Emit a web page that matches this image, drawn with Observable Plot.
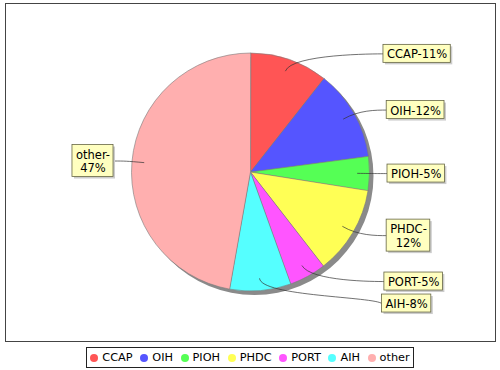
<!DOCTYPE html>
<html><head><meta charset="utf-8">
<script src="https://cdn.jsdelivr.net/npm/d3@7"></script>
<script src="https://cdn.jsdelivr.net/npm/@observablehq/plot@0.6"></script>
<style>
body{margin:0;background:#fff;font-family:"DejaVu Sans",sans-serif;}
#chart svg{display:block;}
#legendWrap{display:flex;justify-content:center;margin-top:4px;}
#legend{border:1px solid #222;padding:2px 3px;display:flex;align-items:center;height:15px;font-size:11.3px;color:#000;line-height:15px;}
.item{display:flex;align-items:center;margin-right:7.6px;}
.item:last-child{margin-right:0;}
.dot{width:8px;height:8px;border-radius:50%;margin-right:4px;}
</style></head><body>
<div id="chart"></div>
<div id="legendWrap"><div id="legend"></div></div>
<script>
// ---- data ----
const categories = ["CCAP", "OIH", "PIOH", "PHDC", "PORT", "AIH", "other"];
const shares = [10.6, 12.3, 4.6, 12.0, 5.0, 8.3, 47.2];
const labelTexts = ["CCAP-11%", "OIH-12%", "PIOH-5%", "PHDC-\n12%", "PORT-5%", "AIH-8%", "other-\n47%"];
const colors = ["#ff5555", "#5555ff", "#55ff55", "#ffff55", "#ff55ff", "#55ffff", "#ffafaf"];

// ---- layout ----
const W = 500, H = 343, mL = 5, mR = 5, mT = 3, mB = 2;
const PX = 119;               // pixels per unit (pie radius)
const cxPx = 250, cyPx = 171.5;
const xDomain = [-(cxPx - mL) / PX, (W - mR - cxPx) / PX];
const yDomain = [-(H - mB - cyPx) / PX, (cyPx - mT) / PX];
const u = p => p / PX;
const FONT = 11.5, LH = 14;

const total = d3.sum(shares);
let acc = 0;
const slices = categories.map((c, i) => {
  const a0 = acc / total * 2 * Math.PI; acc += shares[i];
  const a1 = acc / total * 2 * Math.PI;
  return {cat: c, i, a0, a1, mid: (a0 + a1) / 2};
});
const P = (a, r) => [r * Math.sin(a), r * Math.cos(a)];

// slice polygons: center, arc start, arc end
const slicePts = slices.flatMap(s => {
  const p0 = P(s.a0, 1), p1 = P(s.a1, 1);
  return [{cat: s.cat, x: 0, y: 0}, {cat: s.cat, x: p0[0], y: p0[1]}, {cat: s.cat, x: p1[0], y: p1[1]}];
});
const sh = u(4);
const shadowPts = [{x: sh, y: -sh}, {x: sh, y: -sh + 1}];

function pieArc(context) {
  let p = [];
  return {
    areaStart() {}, areaEnd() {},
    lineStart() { p = []; },
    point(x, y) { p.push([+x, +y]); },
    lineEnd() {
      const c = p[0], s = p[1];
      const r = Math.hypot(s[0] - c[0], s[1] - c[1]);
      const t0 = Math.atan2(s[1] - c[1], s[0] - c[0]);
      if (p.length === 2) {
        context.moveTo(c[0] + r * Math.cos(t0), c[1] + r * Math.sin(t0));
        context.arc(c[0], c[1], r, t0, t0 + 2 * Math.PI, false);
        context.closePath();
        return;
      }
      const e = p[2];
      let t1 = Math.atan2(e[1] - c[1], e[0] - c[0]);
      if (t1 <= t0) t1 += 2 * Math.PI;
      context.moveTo(c[0], c[1]);
      context.lineTo(s[0], s[1]);
      context.arc(c[0], c[1], r, t0, t1, false);
      context.closePath();
    }
  };
}
function cubic(context) {
  let p = [];
  return {
    areaStart() {}, areaEnd() {},
    lineStart() { p = []; },
    point(x, y) { p.push([+x, +y]); },
    lineEnd() {
      context.moveTo(p[0][0], p[0][1]);
      context.bezierCurveTo(p[1][0], p[1][1], p[2][0], p[2][1], p[3][0], p[3][1]);
    }
  };
}

// labels
const canvas = document.createElement("canvas").getContext("2d");
canvas.font = `${FONT}px "DejaVu Sans"`;
const linkR = u(125), linkPct = 0.9, gap = u(4);
const labels = slices.map(s => {
  const side = Math.sin(s.mid) >= 0 ? 1 : -1;
  const lines = labelTexts[s.i].split("\n");
  const w = u(d3.max(lines, l => canvas.measureText(l).width) + 7);
  const h = u(lines.length * LH + 4);
  const edge = side * (u(131) + u(6) * Math.abs(Math.sin(s.mid)));
  return {s, side, lines, w, h, edge, y: linkR * Math.cos(s.mid)};
});
for (const side of [1, -1]) {
  const L = labels.filter(l => l.side === side).sort((a, b) => b.y - a.y);
  for (let k = 1; k < L.length; k++) {
    const prev = L[k - 1], cur = L[k];
    const lim = prev.y - prev.h / 2 - gap - cur.h / 2;
    if (cur.y > lim) cur.y = lim;
  }
}
labels.forEach(l => {
  l.x1 = l.side > 0 ? l.edge : l.edge - l.w;
  l.x2 = l.side > 0 ? l.edge + l.w : l.edge;
  l.y1 = l.y - l.h / 2; l.y2 = l.y + l.h / 2;
  l.tx = (l.x1 + l.x2) / 2;
  l.text = labelTexts[l.s.i];
});
const linkPts = labels.flatMap(l => {
  const s = l.s, e = P(s.mid, linkR), k = P(s.mid, linkPct);
  return [
    {cat: s.cat, x: l.edge, y: l.y},
    {cat: s.cat, x: l.side * linkR, y: e[1]},
    {cat: s.cat, x: e[0], y: e[1]},
    {cat: s.cat, x: k[0], y: k[1]}
  ];
});
const o2 = u(2);

const chart = Plot.plot({
  width: W, height: H,
  marginLeft: mL, marginRight: mR, marginTop: mT, marginBottom: mB,
  x: {domain: xDomain, axis: null},
  y: {domain: yDomain, axis: null},
  color: {domain: categories, range: colors},
  style: {fontFamily: "DejaVu Sans", background: "#fff"},
  marks: [
    Plot.frame({stroke: "#444", strokeWidth: 1}),
    Plot.line(shadowPts, {x: "x", y: "y", curve: pieArc, fill: "#8a8a8a", stroke: "none"}),
    Plot.line(slicePts, {x: "x", y: "y", z: "cat", fill: "cat", curve: pieArc, stroke: "#7a7a7a", strokeWidth: 0.6}),
    Plot.line(linkPts, {x: "x", y: "y", z: "cat", curve: cubic, stroke: "#333", strokeWidth: 0.7, fill: "none"}),
    Plot.rect(labels, {x1: l => l.x1 + o2, x2: l => l.x2 + o2, y1: l => l.y1 - o2, y2: l => l.y2 - o2, fill: "#cccccc", inset: 0}),
    Plot.rect(labels, {x1: "x1", x2: "x2", y1: "y1", y2: "y2", fill: "#ffffc0", stroke: "#666644", strokeWidth: 0.8, inset: 0}),
    Plot.text(labels, {x: "tx", y: "y", text: "text", textAnchor: "middle", lineAnchor: "middle", lineHeight: LH / FONT, fontSize: FONT, fill: "#000"})
  ]
});
document.getElementById("chart").append(chart);

const leg = document.getElementById("legend");
categories.forEach((c, i) => {
  const it = document.createElement("div"); it.className = "item";
  const d = document.createElement("span"); d.className = "dot"; d.style.background = colors[i];
  const t = document.createElement("span"); t.textContent = c;
  it.append(d, t); leg.append(it);
});
</script></body></html>
